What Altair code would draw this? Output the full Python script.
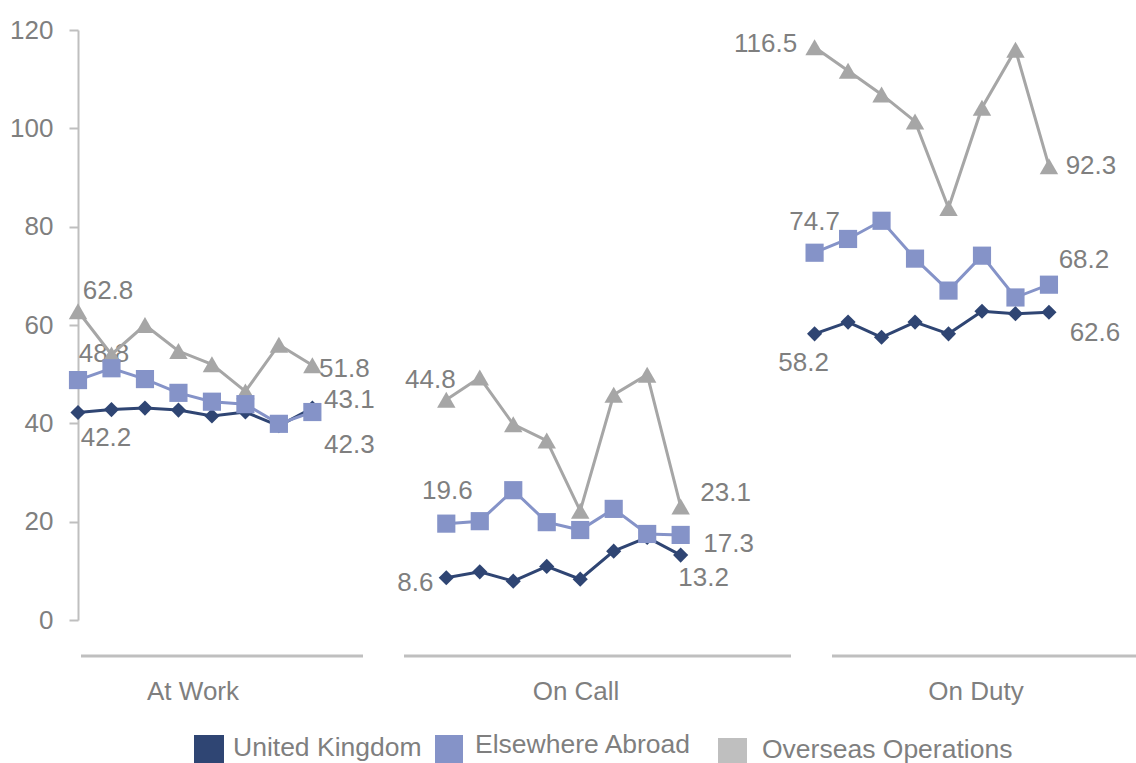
import altair as alt
import pandas as pd

# ---------------- data ----------------
groups = ["At Work", "On Call", "On Duty"]
series = ["United Kingdom", "Elsewhere Abroad", "Overseas Operations"]

uk = [
    [42.2, 42.8, 43.1, 42.7, 41.5, 42.3, 39.5, 43.1],
    [8.6, 9.8, 7.9, 10.9, 8.3, 14.0, 16.8, 13.2],
    [58.2, 60.6, 57.5, 60.6, 58.2, 62.8, 62.3, 62.6],
]
elsewhere = [
    [48.8, 51.2, 49.0, 46.2, 44.4, 43.9, 39.9, 42.3],
    [19.6, 20.1, 26.4, 19.9, 18.3, 22.6, 17.5, 17.3],
    [74.7, 77.5, 81.2, 73.5, 67.0, 74.1, 65.6, 68.2],
]
overseas = [
    [62.8, 54.0, 60.0, 54.7, 52.0, 46.5, 56.0, 51.8],
    [44.8, 49.3, 39.8, 36.5, 22.2, 45.8, 49.9, 23.1],
    [116.5, 111.7, 106.9, 101.4, 83.8, 104.2, 116.0, 92.3],
]
y_ticks = [0, 20, 40, 60, 80, 100, 120]

# ---------------- styles / layout ----------------
colors = ["#2f4573", "#8593c8", "#a6a6a6"]
legend_colors = ["#2f4573", "#8593c8", "#bfbfbf"]
shapes = ["diamond", "square", "triangle-up"]
sizes = [230, 330, 340]
draw_order = [2, 0, 1]
TXT = "#7f7f7f"
AX = "#bfbfbf"
FONT = "Liberation Sans"
GROUP_STEP = 11

# label offsets: (series, group, point, dx, dy)
label_spec = [
    (0, 0, 0, 28, 25), (0, 0, 7, 37, -8),
    (1, 0, 0, 26, -26), (1, 0, 7, 37, 33),
    (2, 0, 0, 30, -20), (2, 0, 7, 32, 4),
    (2, 1, 0, -16, -20), (1, 1, 0, 1, -33), (0, 1, 0, -31, 5),
    (2, 1, 7, 45, -13), (1, 1, 7, 48, 9), (0, 1, 7, 23, 23),
    (2, 2, 0, -49, -3), (1, 2, 0, 0, -31), (0, 2, 0, -11, 29),
    (2, 2, 7, 42, 0), (1, 2, 7, 35, -25), (0, 2, 7, 46, 21),
]

all_vals = [uk, elsewhere, overseas]
rows = []
for s, vals in enumerate(all_vals):
    for g, grp in enumerate(groups):
        for i, v in enumerate(vals[g]):
            rows.append({"series": series[s], "group": grp, "pos": g * GROUP_STEP + i, "value": v})
df = pd.DataFrame(rows)

xenc = alt.X("pos:Q", axis=None, scale=alt.Scale(domain=[0, 31.6], nice=False, zero=False))
yenc = alt.Y(
    "value:Q",
    scale=alt.Scale(domain=[0, 120], nice=False),
    axis=alt.Axis(
        values=y_ticks, grid=False, title=None,
        domainColor=AX, domainWidth=2, tickColor=AX, tickWidth=2, tickSize=9,
        labelFontSize=26, labelColor=TXT, labelFont=FONT, labelPadding=16,
    ),
)

layers = []

# data labels
for s, g, i, dx, dy in label_spec:
    v = all_vals[s][g][i]
    ld = pd.DataFrame({"pos": [g * GROUP_STEP + i], "value": [v], "label": [f"{v:.1f}"]})
    layers.append(
        alt.Chart(ld).mark_text(
            dx=dx, dy=dy, align="center", baseline="middle",
            fontSize=26, font=FONT, color=TXT,
        ).encode(x=xenc, y=yenc, text="label:N")
    )

# lines + markers
for s in draw_order:
    sd = df[df["series"] == series[s]]
    base = alt.Chart(sd)
    layers.append(
        base.mark_line(color=colors[s], strokeWidth=3).encode(x=xenc, y=yenc, detail="group:N")
    )
    layers.append(
        base.mark_point(shape=shapes[s], filled=True, size=sizes[s], color=colors[s], opacity=1).encode(
            x=xenc, y=yenc
        )
    )

# category axis segments and labels (pixel layout)
seg = pd.DataFrame({"x0": [3, 326, 754], "x1": [285, 713, 1058], "y": [626, 626, 626]})
layers.append(
    alt.Chart(seg).mark_rule(color=AX, strokeWidth=3).encode(
        x=alt.X("x0:Q", scale=None), x2="x1:Q", y=alt.Y("y:Q", scale=None)
    )
)
glab = pd.DataFrame({"name": groups, "x": [115, 498, 898], "y": [662, 662, 662]})
layers.append(
    alt.Chart(glab).mark_text(fontSize=26, font=FONT, color=TXT, align="center", baseline="middle").encode(
        x=alt.X("x:Q", scale=None), y=alt.Y("y:Q", scale=None), text="name:N"
    )
)

# legend
leg = pd.DataFrame({
    "name": series,
    "color": legend_colors,
    "sx0": [116, 357, 640], "sx1": [146, 385, 669],
    "sy0": [705, 705, 708], "sy1": [733, 733, 733],
    "tx": [155, 397, 684], "ty": [718, 715, 720],
})
layers.append(
    alt.Chart(leg).mark_rect().encode(
        x=alt.X("sx0:Q", scale=None), x2="sx1:Q",
        y=alt.Y("sy0:Q", scale=None), y2="sy1:Q",
        color=alt.Color("color:N", scale=None),
    )
)
layers.append(
    alt.Chart(leg).mark_text(fontSize=26.5, font=FONT, color=TXT, align="left", baseline="middle").encode(
        x=alt.X("tx:Q", scale=None), y=alt.Y("ty:Q", scale=None), text="name:N"
    )
)

chart = (
    alt.layer(*layers)
    .properties(
        width=1058, height=590,
        autosize=alt.AutoSizeParams(type="none"),
        padding={"left": 78, "top": 30, "right": 0, "bottom": 143},
        background="white",
    )
    .configure_view(stroke=None)
)

chart.save("out.html", embed_options={"renderer": "svg", "actions": False})
